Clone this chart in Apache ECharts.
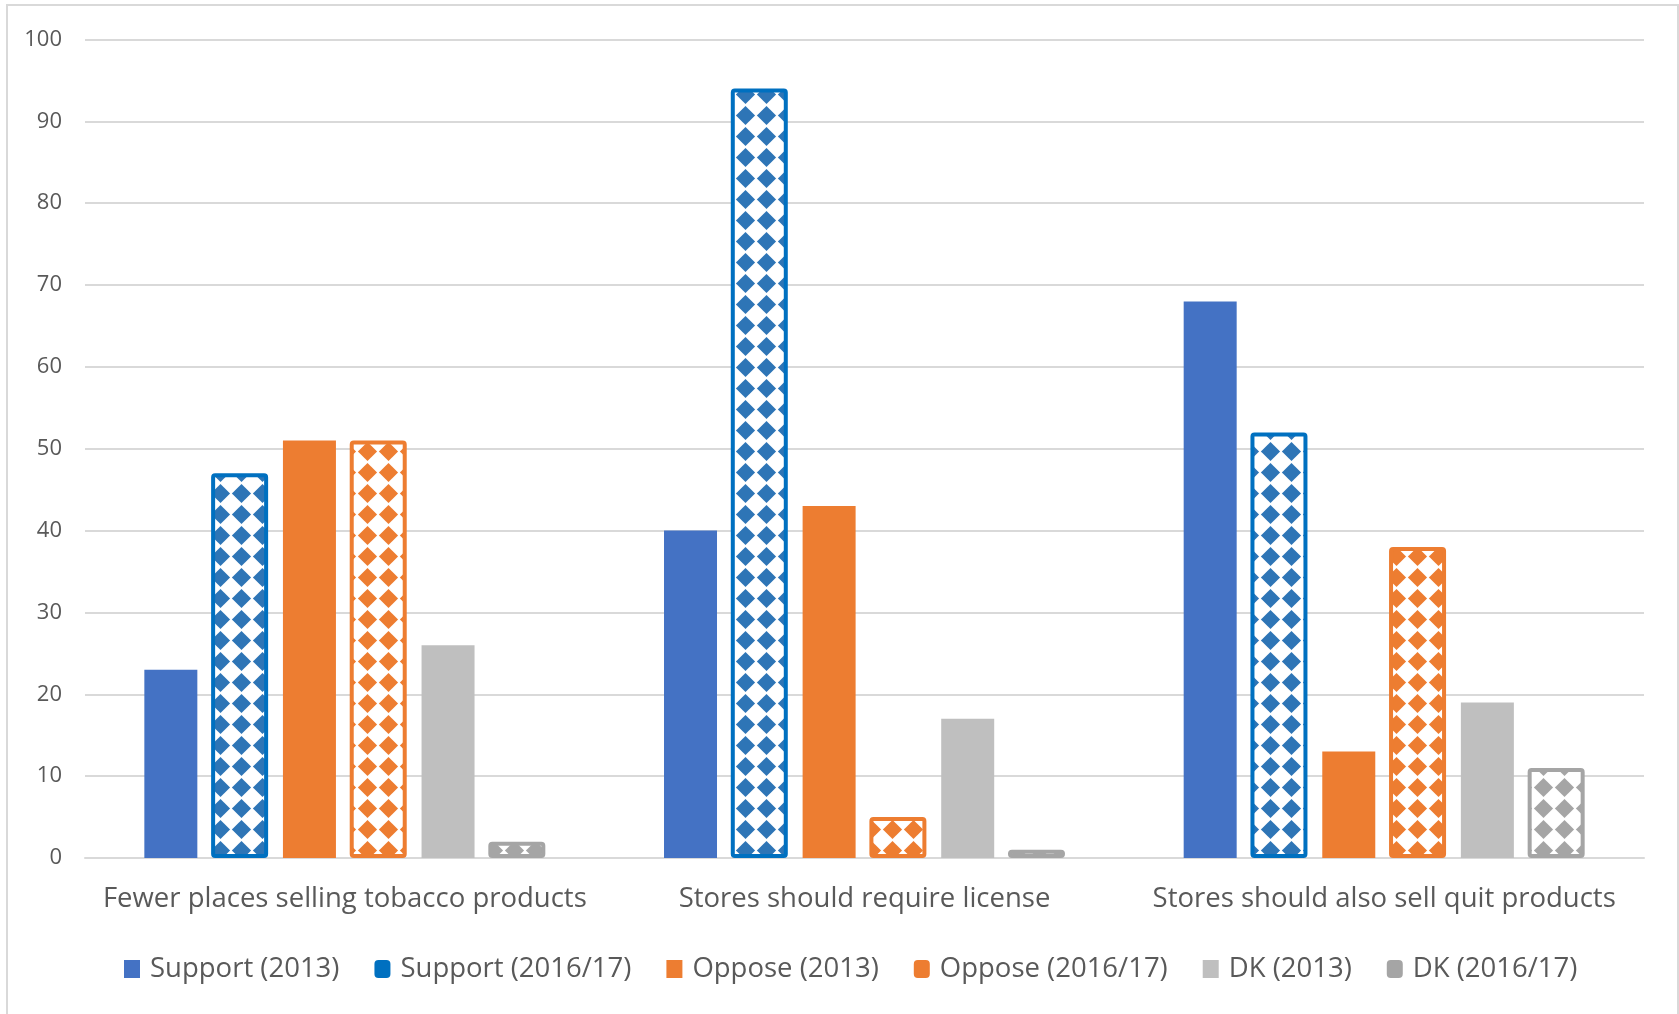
<!DOCTYPE html>
<html>
<head>
<meta charset="utf-8">
<title>Support for tobacco retail policies</title>
<script src="https://cdn.jsdelivr.net/npm/echarts@6/dist/echarts.min.js"></script>
<style>
  html, body { margin: 0; padding: 0; background: #ffffff; }
  #chart { width: 1679px; height: 1014px; }
</style>
</head>
<body>
<div id="chart"></div>
<script>
// Survey results (%), by policy statement
const categories = [
  'Fewer places selling tobacco products',
  'Stores should require license',
  'Stores should also sell quit products'
];
const support2013 = [23, 40, 68];
const support2016 = [47, 94, 52];
const oppose2013 = [51, 43, 13];
const oppose2016 = [51, 5, 38];
const dk2013 = [26, 17, 19];
const dk2016 = [2, 1, 11];
const yTicks = { min: 0, max: 100, interval: 10 };

const FONT = '"Open Sans", Lato, sans-serif';
const TEXT = '#595959';
const GRID = '#D9D9D9';

// Diamond fill used for the 2016/17 bars
function diamondPattern(color) {
  const s = 21;
  const c = document.createElement('canvas');
  c.width = s; c.height = s;
  const g = c.getContext('2d');
  g.fillStyle = '#ffffff';
  g.fillRect(0, 0, s, s);
  g.fillStyle = color;
  const m = s / 2, r = 9.6;
  g.beginPath();
  g.moveTo(m, m - r);
  g.lineTo(m + r, m);
  g.lineTo(m, m + r);
  g.lineTo(m - r, m);
  g.closePath();
  g.fill();
  return { image: c, repeat: 'repeat' };
}

function solid(name, data, color) {
  return {
    name, type: 'bar', data,
    barWidth: 53,
    barGap: '26%',
    itemStyle: { color },
    emphasis: { disabled: true }
  };
}
// the border sits inside the bar's extent, so these bars are a little wider
function patterned(name, data, border, fill) {
  return {
    name, type: 'bar', data,
    barWidth: 57,
    barGap: '26%',
    itemStyle: {
      color: diamondPattern(fill),
      borderColor: border,
      borderWidth: 4,
      borderRadius: 2
    },
    emphasis: { disabled: true }
  };
}

const series = [
  solid('Support (2013)', support2013, '#4472C4'),
  patterned('Support (2016/17)', support2016, '#0070C0', '#2E75B6'),
  solid('Oppose (2013)', oppose2013, '#ED7D31'),
  patterned('Oppose (2016/17)', oppose2016, '#ED7D31', '#ED7D31'),
  solid('DK (2013)', dk2013, '#BFBFBF'),
  patterned('DK (2016/17)', dk2016, '#A5A5A5', '#A5A5A5')
];

const legendData = [
  { name: 'Support (2013)', icon: 'rect', itemStyle: { color: '#4472C4' } },
  { name: 'Support (2016/17)', icon: 'roundRect', itemStyle: { color: '#0070C0', borderWidth: 0 } },
  { name: 'Oppose (2013)', icon: 'rect', itemStyle: { color: '#ED7D31' } },
  { name: 'Oppose (2016/17)', icon: 'roundRect', itemStyle: { color: '#ED7D31', borderWidth: 0 } },
  { name: 'DK (2013)', icon: 'rect', itemStyle: { color: '#BFBFBF' } },
  { name: 'DK (2016/17)', icon: 'roundRect', itemStyle: { color: '#A5A5A5', borderWidth: 0 } }
];

const chart = echarts.init(document.getElementById('chart'), null, { renderer: 'canvas' });
chart.setOption({
  animation: false,
  backgroundColor: '#ffffff',
  textStyle: { fontFamily: FONT },
  graphic: [{
    type: 'rect',
    shape: { x: 7, y: 5, width: 1671, height: 1014 },
    style: { fill: 'none', stroke: GRID, lineWidth: 2 },
    silent: true
  }],
  grid: { left: 85, right: 35, top: 39.5, bottom: 156, containLabel: false },
  legend: {
    data: legendData,
    left: 119,
    top: 949,
    itemWidth: 16,
    itemHeight: 18,
    itemGap: 35,
    selectedMode: false,
    textStyle: { fontFamily: FONT, fontSize: 27.5, color: TEXT, lineHeight: 30, padding: [0, 0, 0, 5] }
  },
  xAxis: {
    type: 'category',
    data: categories,
    axisLine: { show: true, lineStyle: { color: GRID, width: 2 } },
    axisTick: { show: false },
    axisLabel: { fontFamily: FONT, fontSize: 27.5, color: TEXT, margin: 26, lineHeight: 30, interval: 0 }
  },
  yAxis: {
    type: 'value',
    min: yTicks.min,
    max: yTicks.max,
    interval: yTicks.interval,
    axisLine: { show: false },
    axisTick: { show: false },
    splitLine: { lineStyle: { color: GRID, width: 2 } },
    axisLabel: { fontFamily: FONT, fontSize: 22, color: TEXT, margin: 23, padding: [4, 0, 0, 0] }
  },
  series
});
</script>
</body>
</html>
